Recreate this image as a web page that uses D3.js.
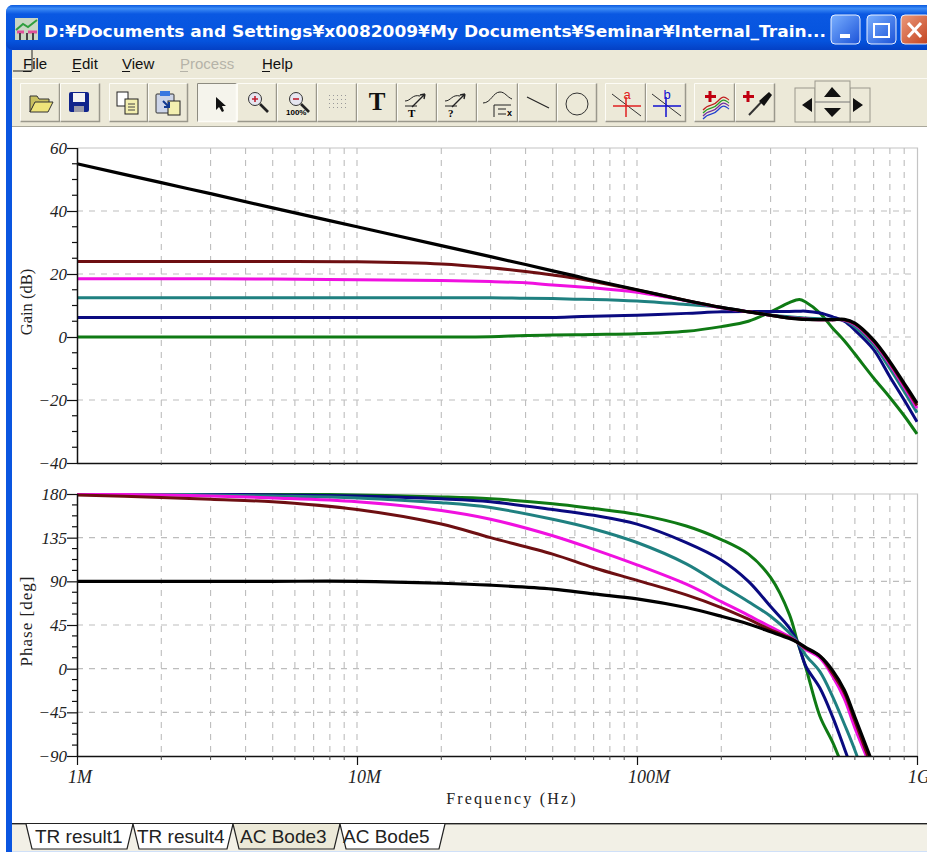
<!DOCTYPE html>
<html><head><meta charset="utf-8">
<script src="https://cdnjs.cloudflare.com/ajax/libs/d3/7.8.5/d3.min.js"></script>
<style>html,body{margin:0;padding:0;background:#fff;overflow:hidden}svg{display:block}</style>
</head><body><svg id="c" width="927" height="852"></svg>
<script>
const titleText = "D:¥Documents and Settings¥x0082009¥My Documents¥Seminar¥Internal_Train...";
const menuItems = ["File","Edit","View","Process","Help"];
const tabLabels = ["TR result1","TR result4","AC Bode3","AC Bode5"];
const freqTicks = [1e6,1e7,1e8,1e9];
const freqTickLabels = ["1M","10M","100M","1G"];
const gainTicks = [60,40,20,0,-20,-40];
const phaseTicks = [180,135,90,45,0,-45,-90];
const seriesColors = {black:"#000000",red:"#6e0f12",magenta:"#f010e0",teal:"#1f8080",navy:"#0a0a80",green:"#0f7a14"};

// frequency grid, MHz
const gainFreq = [1,2,3,5,10,20,30,40,50,60,70,100,150,200,250,300,350,380,400,450,500,550,600,700,800,900,1000];
const gainBlack   = [55,49,45.5,41,35,29,25.5,23,21,19.4,18,15,11.6,9.4,8,6.9,6,5.7,5.6,5.5,5.5,5.6,4.4,-1,-7.8,-14.7,-21];
const gainRed     = [24,24,24,24,23.9,23.2,22,20.8,19.7,18.7,17.6,14.9,11.6,9.4,8,6.9,6,5.8,5.6,5.5,5.5,5.5,4.2,-1.3,-8.2,-15.2,-21.7];
const gainMagenta = [18.5,18.5,18.5,18.4,18.2,17.9,17.6,17.2,16.5,16,15.6,14.2,11.5,9.3,8,6.9,6.1,5.9,5.7,5.5,5.5,5.4,4,-1.6,-8.7,-15.9,-22.6];
const gainTeal    = [12.5,12.5,12.5,12.5,12.5,12.5,12.5,12.3,12.2,12,11.9,11.4,10.3,9.4,8,7,6.4,6.2,6,5.8,5.6,5.3,3.2,-2.5,-10,-17.3,-24];
const gainNavy    = [6.2,6.2,6.2,6.2,6.2,6.2,6.2,6.2,6.2,6.4,6.6,6.9,7.5,8,8.1,8.1,8.1,8.2,8.2,7.6,6.4,5,2.2,-4,-12.6,-20,-26.9];
const gainGreen   = [0,0,0,0,0,0,0.1,0.5,0.6,0.7,0.8,1,1.8,3.3,5,8,10.9,11.9,11.1,7.6,2.8,-1.2,-5.4,-13,-19.2,-25,-30.8];

const phaseFreq = [1,2,3,5,10,20,30,50,70,100,150,200,250,300,350,375,400,450,500,550,600,700];
const phaseBlack   = [90,90,90,90,90,88,86,82,77,72,63,54,46,38,31,27,22,13,-2,-22,-50,-100];
const phaseRed     = [179,176.5,174.5,172,164,149,135,118,104,91,76,63,51,40,32,27,21,13,-5,-25,-54,-106];
const phaseMagenta = [180,179,178,176,172,163,154,137,123,107,87,69,55,43,33,27,20,11,-8,-31,-61,-108];
const phaseTeal    = [180,180,179,178,176,171,166,154,144,130,108,86,69,54,37,27,14,-3,-29,-57,-84,-140];
const phaseNavy    = [180,180,180,179,178,175,172,164,158,149,130,112,90,64,42,27,3,-20,-50,-82,-112,-160];
const phaseGreen   = [180,180,180,180,179,177,175,170,165,159,147,133,118,94,56,27,2,-49,-76,-105,-130,-170];

const gainSeries = [["black",gainBlack],["red",gainRed],["magenta",gainMagenta],["teal",gainTeal],["navy",gainNavy],["green",gainGreen]];
const phaseSeries = [["black",phaseBlack],["red",phaseRed],["magenta",phaseMagenta],["teal",phaseTeal],["navy",phaseNavy],["green",phaseGreen]];
const drawOrder = ["green","navy","teal","magenta","red","black"];

const svg = d3.select("#c");
const defs = svg.append("defs");
const grad = defs.append("linearGradient").attr("id","tb").attr("x1",0).attr("x2",0).attr("y1",0).attr("y2",1);
[[0,"#0a5ae0"],[0.08,"#3d8cf5"],[0.2,"#0a58e2"],[0.8,"#0553dd"],[1,"#0440c4"]].forEach(s=>grad.append("stop").attr("offset",s[0]).attr("stop-color",s[1]));
const bg = defs.append("linearGradient").attr("id","btn").attr("x1",0).attr("x2",1).attr("y1",0).attr("y2",1);
[[0,"#7ab0ff"],[1,"#1b52d8"]].forEach(s=>bg.append("stop").attr("offset",s[0]).attr("stop-color",s[1]));
const cg0 = defs.append("linearGradient").attr("id","cls").attr("x1",0).attr("x2",1).attr("y1",0).attr("y2",1);
[[0,"#eb9a7c"],[1,"#c2401c"]].forEach(s=>cg0.append("stop").attr("offset",s[0]).attr("stop-color",s[1]));

// ---- window chrome
svg.append("rect").attr("x",6).attr("y",5).attr("width",930).attr("height",860).attr("rx",7).attr("fill","#0a55e0");
svg.append("rect").attr("x",6).attr("y",5).attr("width",930).attr("height",45).attr("rx",7).attr("fill","url(#tb)");
svg.append("rect").attr("x",12).attr("y",50).attr("width",915).attr("height",793).attr("fill","#ece9d8");
svg.append("rect").attr("x",12).attr("y",127).attr("width",915).attr("height",696).attr("fill","#ffffff");
svg.append("rect").attr("x",12).attr("y",126).attr("width",915).attr("height",1).attr("fill","#a9a79a");
svg.append("rect").attr("x",12).attr("y",78).attr("width",915).attr("height",1).attr("fill","#fbfaf4");

// title
const ic = svg.append("g").attr("transform","translate(15,18)");
ic.append("rect").attr("width",23).attr("height",22).attr("fill","#c9d6c4");
ic.append("path").attr("d","M1 12L8 6L13 9L22 2").attr("fill","none").attr("stroke","#2f9e3f").attr("stroke-width",2);
ic.append("path").attr("d","M2 14H9M13 14H22").attr("stroke","#e0509a").attr("stroke-width",3);
ic.append("path").attr("d","M5 15V22M12 15V22M18 15V22").attr("stroke","#444").attr("stroke-width",2);
svg.append("text").attr("x",44).attr("y",37).attr("fill","#fff").attr("font-family","'DejaVu Sans',sans-serif").attr("font-size",15.5).attr("font-weight","bold")
  .attr("textLength",782).attr("lengthAdjust","spacingAndGlyphs").text(titleText);
function capBtn(x,fill){
  svg.append("rect").attr("x",x).attr("y",15).attr("width",29).attr("height",29).attr("rx",4).attr("fill",fill).attr("stroke","#e8f0ff").attr("stroke-width",1);
}
capBtn(831,"url(#btn)");capBtn(867,"url(#btn)");capBtn(901,"url(#cls)");
svg.append("rect").attr("x",840).attr("y",34).attr("width",10).attr("height",4).attr("fill","#fff");
svg.append("rect").attr("x",874).attr("y",24).attr("width",15).attr("height",13).attr("fill","none").attr("stroke","#fff").attr("stroke-width",2);
svg.append("path").attr("d","M908 23L921 37M921 23L908 37").attr("stroke","#fff").attr("stroke-width",3);

// menu
const menuX = [23,72,122,180,262];
menuItems.forEach((m,i)=>{
  const t = svg.append("text").attr("x",menuX[i]).attr("y",69).attr("font-family","'Liberation Sans',Arial,sans-serif").attr("font-size",15)
    .attr("fill",m==="Process"?"#b5b3a8":"#111").text(m);
  const w = t.node().getComputedTextLength()/m.length;
  svg.append("rect").attr("x",menuX[i]).attr("y",71).attr("width",Math.max(8,w)).attr("height",1).attr("fill",m==="Process"?"#b5b3a8":"#111");
});
svg.append("path").attr("d","M32 50V71H13").attr("fill","none").attr("stroke","#222").attr("stroke-width",1);

// toolbar
const btnX = [[20,60],[60,100],[109,148],[148,188],[197,237],[237,277],[277,317],[317,357],[357,397],[397,437],[437,477],[477,518],[518,557],[557,597],[605,646],[646,686],[694,735],[735,775]];
btnX.forEach((b,i)=>{
  const pressed = i===4;
  svg.append("rect").attr("x",b[0]).attr("y",83).attr("width",b[1]-b[0]).attr("height",39).attr("fill",pressed?"#f5f4ec":"#ece9d8");
  svg.append("path").attr("d",`M${b[0]+.5} 122V83.5H${b[1]-.5}`).attr("fill","none").attr("stroke",pressed?"#8d8b80":"#fdfcf6");
  svg.append("path").attr("d",`M${b[0]+.5} 121.5H${b[1]-.5}V83.5`).attr("fill","none").attr("stroke",pressed?"#fdfcf6":"#9a988c").attr("stroke-width",1.5);
});
const tool = (x,y)=>svg.append("g").attr("transform",`translate(${x},${y})`);
let g;
// open
g=tool(29,92);g.append("path").attr("d","M1 20V4H8L10 7H20V11H6L1 20Z").attr("fill","#c9c060").attr("stroke","#333");
g.append("path").attr("d","M1 20L6 10H24L19 20Z").attr("fill","#efe47a").attr("stroke","#333");
// save
g=tool(69,92);g.append("rect").attr("width",20).attr("height",20).attr("rx",2).attr("fill","#10248c");
g.append("rect").attr("x",4).attr("y",1).attr("width",12).attr("height",9).attr("fill","#f4f4f4");
g.append("rect").attr("x",5).attr("y",14).attr("width",10).attr("height",6).attr("fill","#9a9aa8");
// copy
g=tool(117,92);g.append("rect").attr("width",11).attr("height",14).attr("fill","#fff").attr("stroke","#222");
g.append("rect").attr("x",8).attr("y",7).attr("width",13).attr("height",15).attr("fill","#f3efb0").attr("stroke","#222");
g.append("path").attr("d","M11 12H18M11 15H18M11 18H18").attr("stroke","#444");
// paste
g=tool(156,91);g.append("rect").attr("y",3).attr("width",18).attr("height",19).attr("rx",1).attr("fill","#cdd5e8").attr("stroke","#333");
g.append("rect").attr("x",4).attr("width",10).attr("height",5).attr("fill","#3a78e0");
g.append("rect").attr("x",12).attr("y",10).attr("width",12).attr("height",14).attr("fill","#f3efb0").attr("stroke","#222");
g.append("path").attr("d","M7 10L13 16M13 11V16H8").attr("fill","none").attr("stroke","#123a90").attr("stroke-width",2);
// arrow
g=tool(216,97);g.append("path").attr("d","M0 0V13L3 10L6 15L8 14L6 9H10Z").attr("fill","#111");
// zoom in/out
[[246,92,"#c02030"],[287,92,"#c02030"]].forEach((z,i)=>{
  g=tool(z[0],z[1]);
  g.append("circle").attr("cx",9).attr("cy",7).attr("r",6.5).attr("fill","#e6e6f0").attr("stroke","#333");
  g.append("path").attr("d",i?"M6 7H12":"M6 7H12M9 4V10").attr("stroke",z[2]).attr("stroke-width",1.6);
  g.append("path").attr("d","M14 12L22 20").attr("stroke","#222").attr("stroke-width",2.6);
  if(i)g.append("text").attr("x",-1).attr("y",23).attr("font-size",8).attr("font-weight","bold").attr("font-family","'Liberation Sans',sans-serif").text("100%");
});
// dots
g=tool(329,95);d3.range(4).forEach(r=>d3.range(5).forEach(c=>g.append("rect").attr("x",c*4).attr("y",r*4).attr("width",1).attr("height",1).attr("fill","#999")));
// T
svg.append("text").attr("x",377).attr("y",110).attr("text-anchor","middle").attr("font-family","'Liberation Serif',serif").attr("font-size",25).attr("font-weight","bold").attr("fill","#111").text("T");
// curve annotators
[[405,"T"],[445,"?"]].forEach(a=>{
  g=tool(a[0],90);
  g.append("path").attr("d","M0 11C6 11 7 4 15 6").attr("fill","none").attr("stroke","#222");
  g.append("path").attr("d","M7 17L20 4M20 4L15 5M20 4L19 9").attr("fill","none").attr("stroke","#222").attr("stroke-width",1.4);
  g.append("path").attr("d","M0 16H12").attr("stroke","#222");
  g.append("text").attr("x",3).attr("y",27).attr("font-family","'Liberation Serif',serif").attr("font-size",11).attr("font-weight","bold").text(a[1]);
});
g=tool(483,90);g.append("path").attr("d","M0 13C8 13 10 2 17 2C22 2 24 7 29 9").attr("fill","none").attr("stroke","#222");
g.append("path").attr("d","M11 27V15H28M15 19H23M15 24H23").attr("fill","none").attr("stroke","#222");
g.append("text").attr("x",24).attr("y",26).attr("font-size",9).attr("font-weight","bold").attr("font-family","'Liberation Sans',sans-serif").text("x");
svg.append("path").attr("d","M527 97L549 108").attr("stroke","#222").attr("stroke-width",1.2);
svg.append("circle").attr("cx",577).attr("cy",104).attr("r",11).attr("fill","none").attr("stroke","#333");
// cursors
[[627,"#e02020","a"],[667,"#1010d0","b"]].forEach(a=>{
  svg.append("path").attr("d",`M${a[0]-15} 94L${a[0]+14} 116`).attr("stroke","#333");
  svg.append("path").attr("d",`M${a[0]-14} 106H${a[0]+14}M${a[0]-1} 97V117`).attr("stroke",a[1]).attr("stroke-width",1.5);
  svg.append("text").attr("x",a[0]).attr("y",99).attr("text-anchor","middle").attr("font-size",13).attr("font-family","'Liberation Sans',sans-serif").attr("fill",a[1]).text(a[2]);
});
// add-wave, dropper
g=tool(702,90);
["#c02020","#2a9a2a","#7030a0","#2040d0"].forEach((c,i)=>g.append("path").attr("d",`M1 ${20+i*3}C8 ${12+i*3} 10 ${18+i*3} 16 ${11+i*3}S24 ${8+i*3} 27 ${10+i*3}`).attr("fill","none").attr("stroke",c).attr("stroke-width",1.2));
g.append("path").attr("d","M8 1V12M3 6.500H14").attr("stroke","#c00010").attr("stroke-width",3);
g=tool(743,90);
g.append("path").attr("d","M5 1V12M0 6.500H11").attr("stroke","#c00010").attr("stroke-width",3);
g.append("path").attr("d","M26 4L6 25").attr("stroke","#333").attr("stroke-width",2);
g.append("path").attr("d","M16 11L26 2L29 5L21 16Z").attr("fill","#111");
// nav
[[795,88,20,34],[850,88,20,34],[815,81,35,41]].forEach(n=>{
  svg.append("rect").attr("x",n[0]).attr("y",n[1]).attr("width",n[2]).attr("height",n[3]).attr("fill","#ece9d8").attr("stroke","#9a988c");
});
svg.append("path").attr("d","M815 102H850").attr("stroke","#777");
svg.append("path").attr("d","M812 98L802 105L812 112ZM853 98L863 105L853 112ZM824 97L832 87L841 97ZM824 108L841 108L832 117Z").attr("fill","#111");

// ---- charts
const x = d3.scaleLog().domain([1e6,1e9]).range([77,917]);
const yGain = d3.scaleLinear().domain([-40,60]).range([463,148]);
const yPhase = d3.scaleLinear().domain([-90,180]).range([756,494]);
const minorX = d3.range(0,3).flatMap(d=>d3.range(2,10).map(k=>k*Math.pow(10,6+d)));
const serif = "'Liberation Serif','Times New Roman',serif";

function panel(y, yTicks, minorY, series, freq, id, yLabel, labelY, labelSize, labelSpacing, axisBottom){
  const [yb,yt] = y.range();
  defs.append("clipPath").attr("id",id).append("rect").attr("x",76).attr("y",yt-1).attr("width",842).attr("height",yb-yt+2);
  const root = svg.append("g");
  root.append("path").attr("d",`M77 ${yt}H917.500V${yb}`).attr("fill","none").attr("stroke","#c4c4c4").attr("stroke-width",1.2);
  root.append("g").selectAll("line").data(minorX.concat(freqTicks.slice(1,3))).join("line")
    .attr("x1",d=>x(d)).attr("x2",d=>x(d)).attr("y1",yt).attr("y2",yb)
    .attr("stroke","#bdbdbd").attr("stroke-width",1.1).attr("stroke-dasharray","6 6");
  root.append("g").selectAll("line").data(yTicks.filter(t=>t!==yTicks[0]&&t!==yTicks[yTicks.length-1])).join("line")
    .attr("x1",77).attr("x2",917).attr("y1",d=>y(d)).attr("y2",d=>y(d))
    .attr("stroke","#bdbdbd").attr("stroke-width",1.1).attr("stroke-dasharray","6 6");
  const line = d3.line().x(d=>x(d[0]*1e6)).y(d=>y(d[1])).curve(d3.curveCatmullRom.alpha(0.5));
  const m = new Map(series);
  const cg = root.append("g").attr("clip-path",`url(#${id})`);
  cg.selectAll("path").data(drawOrder).join("path")
    .attr("d",k=>line(freq.map((f,i)=>[f,m.get(k)[i]])))
    .attr("fill","none").attr("stroke",k=>seriesColors[k])
    .attr("stroke-width",k=>k==="black"?3.2:3).attr("stroke-linejoin","round");
  const ax = root.append("g").attr("transform","translate(77,0)")
    .call(d3.axisLeft(y).tickValues(yTicks).tickSize(10).tickPadding(0).tickFormat(d=>String(d).replace("-","\u2212")));
  ax.select(".domain").attr("d",`M0.5 ${yt}V${yb}`).attr("stroke","#111").attr("stroke-width",1.5);
  ax.selectAll(".tick line").attr("stroke","#111").attr("stroke-width",1.2);
  ax.selectAll("text").attr("font-family",serif).attr("font-style","italic").attr("font-size",17).attr("fill","#222");
  root.append("g").selectAll("line").data(minorY).join("line")
    .attr("x1",72).attr("x2",77).attr("y1",d=>y(d)).attr("y2",d=>y(d)).attr("stroke","#111").attr("stroke-width",1.2);
  const bx = root.append("g").attr("transform",`translate(0,${yb})`)
    .call(d3.axisBottom(x).tickValues(freqTicks).tickSize(axisBottom?9:0).tickFormat(()=>""));
  bx.select(".domain").attr("d",`M77 0.500H917.500`).attr("stroke","#111").attr("stroke-width",1.4);
  bx.selectAll(".tick line").attr("stroke","#111").attr("stroke-width",1.2);
  root.append("g").selectAll("line").data(minorX).join("line")
    .attr("x1",d=>x(d)).attr("x2",d=>x(d)).attr("y1",yb).attr("y2",yb+(axisBottom?4:2)).attr("stroke","#444").attr("stroke-width",1);
  root.append("text").attr("transform",`translate(32,${labelY}) rotate(-90)`).attr("text-anchor","middle")
    .attr("font-family",serif).attr("font-size",labelSize).attr("letter-spacing",labelSpacing).attr("fill","#222").text(yLabel);
}
const gainMinor = d3.range(-40,61,5).filter(v=>v%20!==0);
const phaseMinor = d3.range(-90,181,11.25).filter(v=>v%45!==0);
panel(yGain,gainTicks,gainMinor,gainSeries,gainFreq,"cg1","Gain (dB)",302,16.5,0,false);
panel(yPhase,phaseTicks,phaseMinor,phaseSeries,phaseFreq,"cg2","Phase [deg]",621,17,1,true);

// x labels
svg.append("g").selectAll("text").data(freqTicks).join("text")
  .attr("x",d=>x(d)-9).attr("y",783).attr("font-family",serif).attr("font-style","italic").attr("font-size",18).attr("fill","#222")
  .text((d,i)=>freqTickLabels[i]);
svg.append("text").attr("x",512).attr("y",804).attr("text-anchor","middle").attr("font-family",serif).attr("font-size",16).attr("fill","#222").attr("letter-spacing",2.2).text("Frequency (Hz)");

// ---- tabs
svg.append("rect").attr("x",12).attr("y",823).attr("width",915).attr("height",28).attr("fill","#f2f0e6");
svg.append("rect").attr("x",12).attr("y",823).attr("width",915).attr("height",1.4).attr("fill","#222");
const tabX = [[26,133],[133,233],[233,340],[340,445]];
const tabTextX = [35,137,240,343];
tabX.forEach((t,i)=>{
  const active = i===2;
  svg.append("path").attr("d",`M${t[0]} 824L${t[0]+6} 849H${t[1]-6}L${t[1]} 824`)
    .attr("fill",active?"#ece9d8":"#ffffff").attr("stroke","#222").attr("stroke-width",1.2);
});
tabLabels.forEach((l,i)=>{
  svg.append("text").attr("x",tabTextX[i]).attr("y",843).attr("font-family","'Liberation Sans',Arial,sans-serif").attr("font-size",19).attr("fill","#222").text(l);
});
svg.append("rect").attr("x",12).attr("y",851).attr("width",915).attr("height",1).attr("fill","#cfe0f8");
</script></body></html>
